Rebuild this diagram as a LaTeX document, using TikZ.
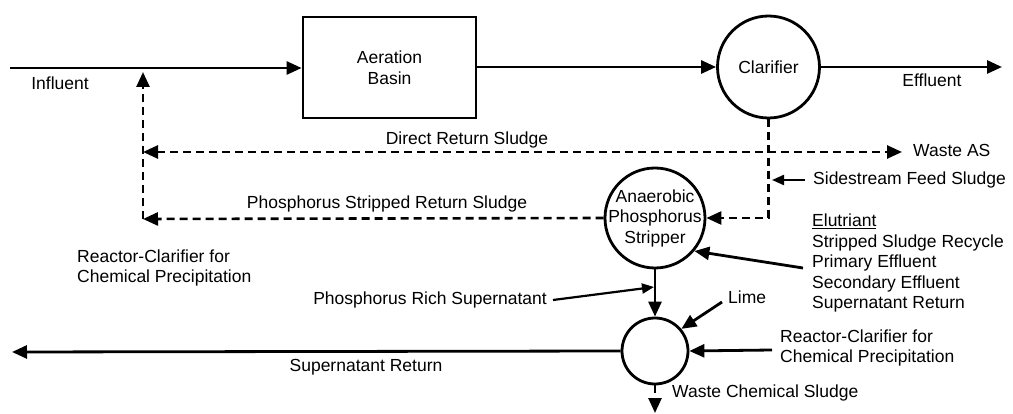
\documentclass[tikz,border=0pt]{standalone}
\usepackage{fontspec}
\setmainfont{Liberation Sans}
\usetikzlibrary{arrows.meta}
\begin{document}
\begin{tikzpicture}[x=1pt,y=-1pt,
  every node/.style={font=\fontsize{17.5}{20.5}\selectfont, inner sep=0pt},
  flow/.style={line width=2.8pt, -{Triangle[length=15pt,width=13pt]}},
  thinflow/.style={line width=2.2pt, -{Triangle[length=12pt,width=10pt]}},
  dashes/.style={line width=2.6pt, dash pattern=on 8pt off 5pt},
  dflow/.style={dashes, -{Triangle[length=15pt,width=13pt]}},
  tank/.style={draw, line width=2.8pt, rectangle, minimum width=173pt, minimum height=101pt, align=center},
  vessel/.style={draw, line width=2.8pt, circle},
  lbl/.style={align=left}]
\useasboundingbox (0,0) rectangle (1013,414);

% process units
\node[tank] (basin) at (389.5,67.5) {Aeration\\Basin};
\node[vessel, minimum size=102pt] (clar) at (768.5,67) {Clarifier};
\node[vessel, minimum size=100pt] (strip) at (655,218) {};
\node[align=center] (striptxt) at (strip.center) {Anaerobic\\Phosphorus\\Stripper};
\node[vessel, minimum size=66pt] (react) at (655,351) {};

% free ends
\coordinate (inf) at (10,68);
\coordinate (eff) at (1002,67);
\coordinate (drsL) at (143,152);
\coordinate (drsR) at (902,152);
\coordinate (retC) at (143,219);
\coordinate (retT) at (143,72);
\coordinate (sideC) at (768.5,218);
\coordinate (sideT) at (772,180);
\coordinate (sideS) at (805,180);
\coordinate (prsS) at (553,300);
\coordinate (prsT) at (654,287);
\coordinate (limeS) at (722,302);
\coordinate (rcS) at (772,350);
\coordinate (eluS) at (803,268);
\coordinate (wcs) at (655,413);
\coordinate (supT) at (12,352);

% main line
\draw[flow] (inf) -- (basin.west |- inf);
\draw[flow] (basin.east |- clar.west) -- (clar.west);
\draw[flow] (clar.east) -- (eff);

% sludge returns
\draw[dashes, {Triangle[length=15pt,width=13pt]}-{Triangle[length=15pt,width=13pt]}] (drsL) -- (drsR);
\draw[dflow] (clar.south) -- (sideC) -- (strip.east);
\draw[dflow] (strip.west) -- (retC);
\draw[dflow] (retC) -- (retT);

% stripper and chemical precipitation
\draw[flow] (strip.south) -- (react.north);
\draw[flow] (react.west) -- (supT);
\draw[dflow] (react.south) -- (wcs);
\draw[thinflow] (sideS) -- (sideT);
\draw[thinflow] (prsS) -- (prsT);
\draw[flow] (limeS) -- (react.40);
\draw[flow] (rcS) -- (react.east);
\draw[flow] (eluS) -- (strip.-40);

% labels
\node (tInf) at (60,83) {Influent};
\node (tEff) at (932,80) {Effluent};
\node (tDrs) at (467,140) {Direct Return Sludge};
\node[anchor=west] (tWas) at (913,150) {Waste AS};
\node (tPsr) at (387,204) {Phosphorus Stripped Return Sludge};
\node[anchor=west] (tSide) at (813,180) {Sidestream Feed Sludge};
\node[lbl, anchor=west] (tRcL) at (77,268) {Reactor-Clarifier for\\Chemical Precipitation};
\node[lbl, anchor=west] (tElu) at (812,263) {\underline{Elutriant}\\Stripped Sludge Recycle\\Primary Effluent\\Secondary Effluent\\Supernatant Return};
\node[anchor=east] (tPrs) at (547,300) {Phosphorus Rich Supernatant};
\node[anchor=west] (tLime) at (728,297) {Lime};
\node[lbl, anchor=west] (tRcR) at (780,348) {Reactor-Clarifier for\\Chemical Precipitation};
\node (tSup) at (366,367) {Supernatant Return};
\node[anchor=west] (tWcs) at (672,393) {Waste Chemical Sludge};
\end{tikzpicture}
\end{document}
